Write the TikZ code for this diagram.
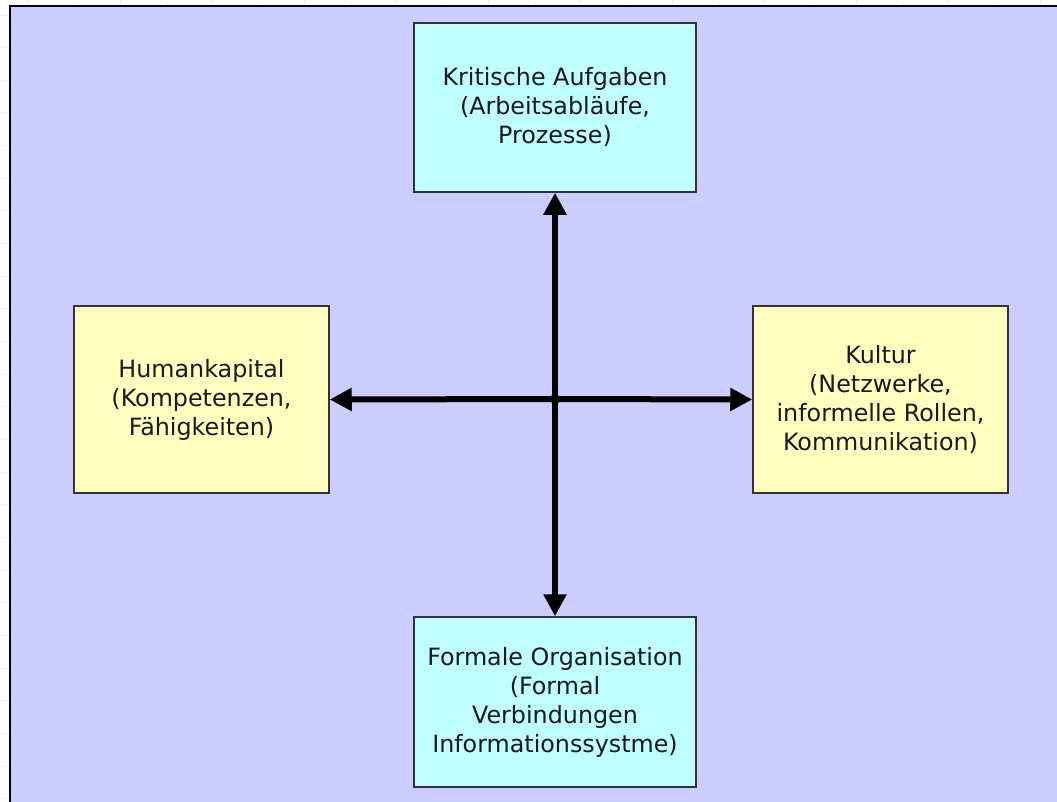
\documentclass[tikz,border=0pt]{standalone}
\usepackage{fontspec}
\setmainfont{DejaVu Sans}
\usetikzlibrary{arrows.meta}
\definecolor{bg}{HTML}{CCCCFF}
\definecolor{cyanbox}{HTML}{C0FFFF}
\definecolor{yellowbox}{HTML}{FFFFC0}
\definecolor{gridc}{HTML}{EEEEEE}
\tikzset{
  box/.style={draw=black!80, line width=1.5pt, align=center, inner sep=0pt,
    font=\fontsize{23.8}{29}\selectfont, text=black!90},
  cbox/.style={box, fill=cyanbox},
  ybox/.style={box, fill=yellowbox},
  bigarrow/.style={line width=6pt, -{Triangle[length=22pt,width=22pt]}},
}
\begin{document}
\begin{tikzpicture}[x=1pt,y=1pt]
\useasboundingbox (0,0) rectangle (1057,-801);
\fill[white] (0,0) rectangle (1057,-801);
% faint grid outside the frame
\foreach \gx in {28,74,120,166,212,258,304,350,396,442,488,534,580,626,672,718,764,810,856,902,948,994,1040}
  \draw[gridc, line width=1pt] (\gx,0) -- (\gx,-6);
\foreach \gy in {15,47,80,112,145,178,210,243,276,308,341,374,406,439,472,504,537,570,602,635,668,700,733,766,798}
  \draw[gridc, line width=1pt] (0,-\gy) -- (10,-\gy);
% frame
\draw[fill=bg, line width=2pt] (10,-6) rectangle (1070,-815);
% boxes
\node[cbox, minimum width=282pt, minimum height=169pt] (top) at (555,-107.5)
  {Kritische Aufgaben\\(Arbeitsabläufe,\\Prozesse)};
\node[ybox, minimum width=255pt, minimum height=187pt] (left) at (201.5,-399.5)
  {Humankapital\\(Kompetenzen,\\Fähigkeiten)};
\node[ybox, minimum width=255pt, minimum height=187pt] (right) at (880.5,-399.5)
  {Kultur\\(Netzwerke,\\informelle Rollen,\\Kommunikation)};
\node[cbox, minimum width=282pt, minimum height=170pt] (bottom) at (555,-702)
  {Formale Organisation\\(Formal\\Verbindungen\\Informationssystme)};
% centre
\node[circle, fill=black, inner sep=0pt, minimum size=10pt] (c) at (555,-399) {};
\draw[bigarrow] (c.center) -- (top.south);
\draw[bigarrow] (c.center) -- (bottom.north);
\draw[bigarrow] (c.center) -- (left.east);
\draw[bigarrow] (c.center) -- (right.west);
\end{tikzpicture}
\end{document}
